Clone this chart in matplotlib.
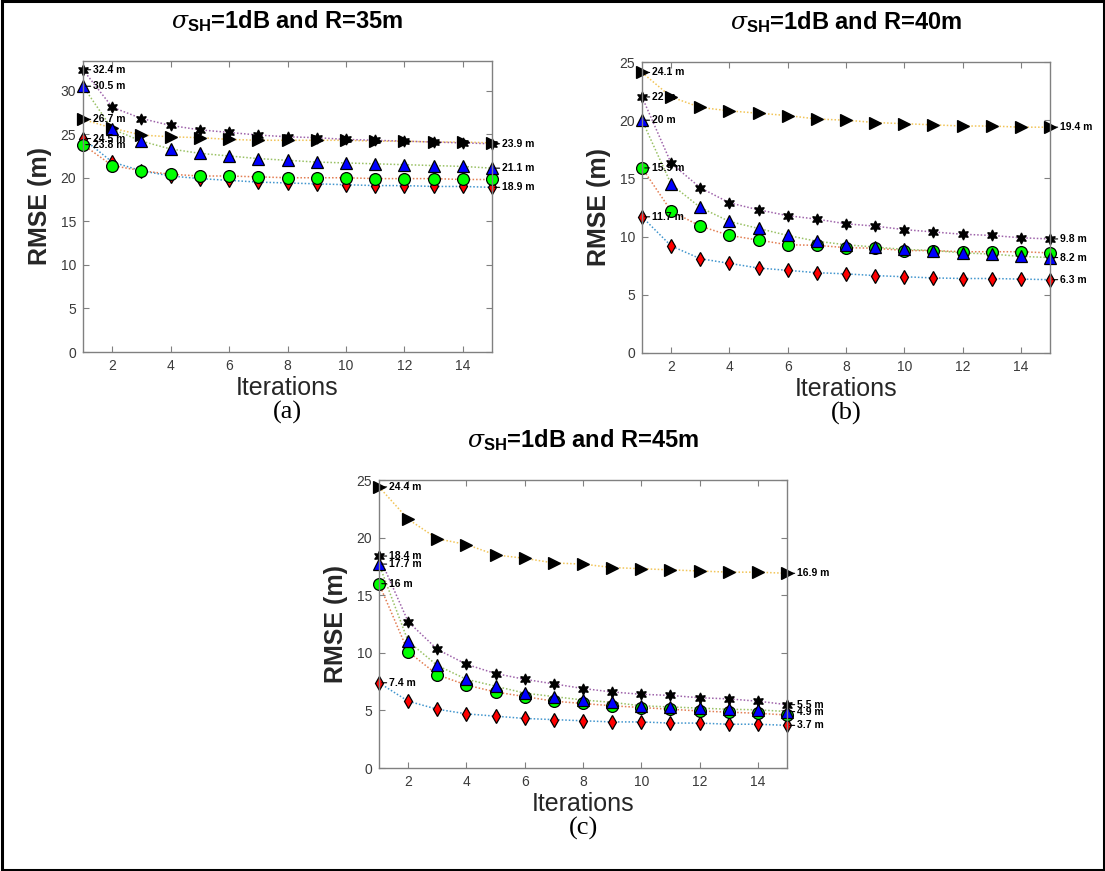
import matplotlib
matplotlib.use("Agg")
import matplotlib.pyplot as plt
from matplotlib.patches import Rectangle

# ---- data -------------------------------------------------------------
iterations = list(range(1, 16))

# R = 35 m
a_diamond = [24.5, 21.8, 20.8, 20.2, 19.9, 19.7, 19.5, 19.4, 19.3, 19.2, 19.1, 19.1, 19.0, 19.0, 18.9]
a_circle = [23.8, 21.4, 20.8, 20.4, 20.2, 20.2, 20.1, 20.0, 20.0, 20.0, 19.9, 19.9, 19.9, 19.8, 19.8]
a_right = [26.7, 25.7, 24.9, 24.7, 24.6, 24.4, 24.3, 24.3, 24.3, 24.3, 24.2, 24.2, 24.1, 24.1, 24.0]
a_hex = [32.4, 28.1, 26.8, 26.0, 25.5, 25.2, 24.9, 24.7, 24.6, 24.4, 24.3, 24.2, 24.1, 24.0, 23.9]
a_tri = [30.5, 25.6, 24.2, 23.3, 22.8, 22.5, 22.2, 22.0, 21.8, 21.7, 21.6, 21.5, 21.4, 21.3, 21.1]

# R = 40 m
b_diamond = [11.7, 9.2, 8.1, 7.7, 7.3, 7.1, 6.9, 6.8, 6.65, 6.55, 6.45, 6.4, 6.4, 6.35, 6.3]
b_circle = [15.9, 12.2, 10.9, 10.1, 9.7, 9.3, 9.25, 9.05, 9.0, 8.8, 8.8, 8.7, 8.7, 8.7, 8.6]
b_right = [24.1, 22.0, 21.1, 20.8, 20.6, 20.4, 20.1, 20.0, 19.8, 19.7, 19.6, 19.5, 19.5, 19.4, 19.4]
b_hex = [22.0, 16.3, 14.2, 12.9, 12.3, 11.8, 11.5, 11.1, 10.9, 10.6, 10.4, 10.2, 10.1, 9.9, 9.8]
b_tri = [20.0, 14.5, 12.5, 11.3, 10.7, 10.1, 9.6, 9.3, 9.1, 8.9, 8.8, 8.6, 8.5, 8.3, 8.2]

# R = 45 m
c_diamond = [7.4, 5.8, 5.1, 4.7, 4.5, 4.3, 4.2, 4.1, 4.0, 4.0, 3.9, 3.9, 3.8, 3.8, 3.7]
c_circle = [16.0, 10.1, 8.1, 7.2, 6.6, 6.2, 5.8, 5.6, 5.4, 5.25, 5.1, 4.95, 4.85, 4.75, 4.6]
c_right = [24.4, 21.6, 19.9, 19.4, 18.5, 18.2, 17.8, 17.7, 17.4, 17.3, 17.2, 17.1, 17.0, 17.0, 16.9]
c_hex = [18.4, 12.7, 10.3, 9.0, 8.2, 7.7, 7.3, 6.9, 6.6, 6.4, 6.3, 6.1, 6.0, 5.8, 5.5]
c_tri = [17.7, 11.0, 8.9, 7.7, 7.1, 6.5, 6.2, 5.9, 5.7, 5.4, 5.3, 5.2, 5.1, 5.05, 4.9]

titles = ["$\\sigma_{\\mathbf{SH}}$=1dB and R=35m",
          "$\\sigma_{\\mathbf{SH}}$=1dB and R=40m",
          "$\\sigma_{\\mathbf{SH}}$=1dB and R=45m"]
captions = ["(a)", "(b)", "(c)"]

# which series get a value tag at the first / last iteration
a_first_tags = ["hex", "tri", "right", "diamond", "circle"]
a_last_tags = ["hex", "tri", "diamond"]
b_first_tags = ["right", "hex", "tri", "circle", "diamond"]
b_last_tags = ["right", "hex", "tri", "diamond"]
c_first_tags = ["right", "hex", "tri", "circle", "diamond"]
c_last_tags = ["right", "hex", "tri", "diamond"]

# ---- styling ----------------------------------------------------------
W, H = 1105, 871
plt.rcParams["font.family"] = ["Liberation Sans", "DejaVu Sans"]
plt.rcParams["mathtext.fontset"] = "custom"
plt.rcParams["mathtext.rm"] = "Liberation Sans:bold"
plt.rcParams["mathtext.bf"] = "Liberation Sans:bold"
plt.rcParams["mathtext.it"] = "DejaVu Serif:italic"

series_style = {
    "diamond": dict(color="#0072BD", marker="d", mfc="#ff0000", ms=7),
    "circle": dict(color="#D95319", marker="o", mfc="#00ff00", ms=8.5),
    "right": dict(color="#EDB120", marker=">", mfc="#000000", ms=9),
    "hex": dict(color="#7E2F8E", marker=(6, 1, 0), mfc="#000000", ms=8),
    "tri": dict(color="#77AC30", marker="^", mfc="#0000ff", ms=8.5),
}
order = ["diamond", "circle", "right", "hex", "tri"]

panels = [
    dict(rect=(83, 61, 492, 352), ylim=(0, 33.4), yticks=[0, 5, 10, 15, 20, 25, 30],
         data=dict(diamond=a_diamond, circle=a_circle, right=a_right, hex=a_hex, tri=a_tri),
         first=a_first_tags, last=a_last_tags),
    dict(rect=(642, 62, 1050, 353), ylim=(0, 25), yticks=[0, 5, 10, 15, 20, 25],
         data=dict(diamond=b_diamond, circle=b_circle, right=b_right, hex=b_hex, tri=b_tri),
         first=b_first_tags, last=b_last_tags),
    dict(rect=(379, 480, 787, 768), ylim=(0, 25), yticks=[0, 5, 10, 15, 20, 25],
         data=dict(diamond=c_diamond, circle=c_circle, right=c_right, hex=c_hex, tri=c_tri),
         first=c_first_tags, last=c_last_tags),
]

fig = plt.figure(figsize=(W / 100, H / 100), dpi=100)
fig.patch.set_facecolor("white")
fig.patches.append(Rectangle((1.5 / W, 1.5 / H), 1 - 3 / W, 1 - 3 / H,
                             transform=fig.transFigure, fill=False,
                             edgecolor="black", linewidth=2.2))

axis_grey = "#808080"
tick_grey = "#3a3a3a"


def tag(ax, x, y):
    ax.annotate(f"{y:g} m", xy=(x, y), xytext=(7.5, 0), textcoords="offset points",
                fontsize=7.5, fontweight="bold", va="center", ha="left",
                annotation_clip=False,
                arrowprops=dict(arrowstyle="-", lw=0.8, color="black",
                                shrinkA=0, shrinkB=2))


for i, p in enumerate(panels):
    l, t, r, b = p["rect"]
    ax = fig.add_axes([l / W, 1 - b / H, (r - l) / W, (b - t) / H])
    for key in order:
        st = series_style[key]
        ax.plot(iterations, p["data"][key], linestyle=(0, (1, 1.3)), linewidth=1.1,
                color=st["color"], alpha=0.75, marker="none")
    for key in order:
        st = series_style[key]
        ax.plot(iterations, p["data"][key], linestyle="none", marker=st["marker"],
                markersize=st["ms"], markerfacecolor=st["mfc"],
                markeredgecolor="black", markeredgewidth=0.9, clip_on=False)
    for key in p["first"]:
        tag(ax, iterations[0], p["data"][key][0])
    for key in p["last"]:
        tag(ax, iterations[-1], p["data"][key][-1])

    ax.set_xlim(1, 15)
    ax.set_ylim(*p["ylim"])
    ax.set_xticks([2, 4, 6, 8, 10, 12, 14])
    ax.set_yticks(p["yticks"])
    ax.tick_params(direction="in", length=4, width=0.8, color=axis_grey,
                   labelcolor=tick_grey, labelsize=10, top=True, right=True, pad=5)
    for s in ax.spines.values():
        s.set_color(axis_grey)
        s.set_linewidth(1.0)

    ax.set_xlabel("Iterations", fontsize=18, color="#262626", labelpad=2)
    ax.set_ylabel("RMSE (m)", fontsize=18, fontweight="bold", color="#262626")
    ax.yaxis.set_label_coords(-0.075, 0.5)
    ax.set_title(titles[i], fontsize=17, fontweight="bold", pad=24)
    cx = (l + r) / 2 / W
    cy = 1 - (b + 60) / H
    fig.text(cx, cy, captions[i], fontsize=19, family="Liberation Serif",
             ha="center", va="center")

fig.savefig("out.png", dpi=100)
